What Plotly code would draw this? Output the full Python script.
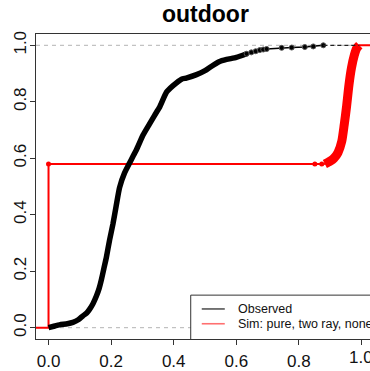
import plotly.graph_objects as go

# ---- data ----
title_text = "outdoor"
tick_vals = [0.0, 0.2, 0.4, 0.6, 0.8, 1.0]
tick_text = ["0.0", "0.2", "0.4", "0.6", "0.8", "1.0"]

# Observed ECDF: dense part (quantile knots)
obs_dense_x = [0.0, 0.02, 0.035, 0.06, 0.078, 0.095, 0.11, 0.122, 0.131, 0.142, 0.153, 0.162,
               0.169, 0.177, 0.185, 0.195, 0.206, 0.216, 0.227, 0.243, 0.259, 0.27, 0.281,
               0.302, 0.322, 0.339, 0.355, 0.377, 0.398, 0.425, 0.44, 0.473, 0.50, 0.52,
               0.545, 0.569, 0.60, 0.633]
obs_dense_F = [0.0, 0.006, 0.01, 0.014, 0.019, 0.028, 0.042, 0.052, 0.065, 0.085, 0.112, 0.14,
               0.17, 0.21, 0.25, 0.31, 0.368, 0.43, 0.496, 0.548, 0.583, 0.607, 0.63,
               0.682, 0.72, 0.752, 0.781, 0.834, 0.857, 0.880, 0.884, 0.896, 0.910, 0.925,
               0.942, 0.950, 0.957, 0.970]
# Observed ECDF: sparse upper tail (individual points)
obs_sparse_x = [0.633, 0.648, 0.662, 0.675, 0.686, 0.697, 0.745, 0.777, 0.819, 0.846, 0.878]
obs_sparse_F = [0.970, 0.975, 0.979, 0.983, 0.985, 0.987, 0.991, 0.992, 0.994, 0.996, 1.0]

# Simulated ECDF (pure, two ray, none)
sim_zero_F = 0.58
sim_pts_x = [0.851, 0.873]
sim_dense_x = [0.883, 0.90, 0.912, 0.925, 0.937, 0.945, 0.952, 0.960, 0.968, 0.977, 0.985, 0.993]
sim_dense_F = [0.58, 0.59, 0.60, 0.62, 0.66, 0.72, 0.78, 0.86, 0.92, 0.965, 0.99, 1.0]

legend_labels = ["Observed", "Sim: pure, two ray, none"]

# ---- figure ----
FONT = "Liberation Sans, Arial, Helvetica, sans-serif"
X0, X1 = -0.04, 1.0272
Y0, Y1 = -0.04, 1.04
PLOT_H = 310

fig = go.Figure()

# reference dashed lines at 0 and 1
for h in (0.0, 1.0):
    fig.add_shape(type="line", xref="paper", yref="y", x0=0, x1=1, y0=h, y1=h,
                  line=dict(color="#b3b3b3", width=1, dash="4px,4px"), layer="below")

# simulated (red)
fig.add_trace(go.Scatter(x=[X0, 0.0, 0.0], y=[0.0, 0.0, sim_zero_F], mode="lines",
                         line=dict(color="#ff0000", width=2), showlegend=False, hoverinfo="skip"))
fig.add_trace(go.Scatter(x=[0.0] + sim_pts_x + [sim_dense_x[0]],
                         y=[sim_zero_F] * (len(sim_pts_x) + 2), mode="lines",
                         line=dict(color="#ff0000", width=2), showlegend=False, hoverinfo="skip"))
fig.add_trace(go.Scatter(x=[0.0] + sim_pts_x, y=[sim_zero_F] * (len(sim_pts_x) + 1), mode="markers",
                         marker=dict(color="#ff0000", size=5), showlegend=False, hoverinfo="skip"))
fig.add_trace(go.Scatter(x=sim_dense_x + [X1 + 0.05], y=sim_dense_F + [1.0], mode="lines",
                         line=dict(color="#ff0000", width=2), showlegend=False, hoverinfo="skip"))
fig.add_trace(go.Scatter(x=sim_dense_x, y=sim_dense_F, mode="lines",
                         line=dict(color="#ff0000", width=9, shape="spline", smoothing=0.6),
                         showlegend=False, hoverinfo="skip"))

# observed (black)
fig.add_trace(go.Scatter(x=obs_dense_x, y=obs_dense_F, mode="lines",
                         line=dict(color="#000000", width=5.5, shape="spline", smoothing=0.5),
                         showlegend=False, hoverinfo="skip"))
fig.add_trace(go.Scatter(x=obs_sparse_x, y=obs_sparse_F, mode="lines+markers",
                         line=dict(color="#000000", width=1.5),
                         marker=dict(color="#000000", size=5, line=dict(color="#555555", width=1)),
                         showlegend=False, hoverinfo="skip"))
fig.add_trace(go.Scatter(x=[obs_sparse_x[-1], sim_dense_x[-1]], y=[1.0, 1.0], mode="lines",
                         line=dict(color="#222222", width=1.2, dash="4px,3px"),
                         showlegend=False, hoverinfo="skip"))

# manual legend (R style)
fig.add_shape(type="rect", xref="x", yref="y", x0=0.4544, x1=1.2, y0=-0.045, y1=0.1153,
              line=dict(color="#333333", width=1), fillcolor="white", layer="above")
leg_colors = ["#555555", "#ff7070"]
leg_y = [0.0664, 0.014]
for lab, col, ly in zip(legend_labels, leg_colors, leg_y):
    fig.add_shape(type="line", xref="x", yref="y", x0=0.4896, x1=0.5632, y0=ly, y1=ly,
                  line=dict(color=col, width=1.6), layer="above")
    fig.add_annotation(x=0.598, y=ly, xref="x", yref="y", text=lab, showarrow=False,
                       xanchor="left", yanchor="middle",
                       font=dict(family=FONT, size=12.5, color="#111111"))

# title
fig.add_annotation(x=(205 - 36) / 334, y=1 + 20 / PLOT_H, xref="paper", yref="paper",
                   text="<b>" + title_text + "</b>", showarrow=False,
                   xanchor="center", yanchor="middle",
                   font=dict(family=FONT, size=23, color="#000000"))

# last x tick label (partly past the right edge, as in the reference)
fig.add_annotation(x=tick_vals[-1], y=-19 / PLOT_H, xref="x", yref="paper",
                   text=tick_text[-1], showarrow=False, xanchor="center", yanchor="middle",
                   font=dict(family=FONT, size=17, color="#111111"))

axis_common = dict(showgrid=False, zeroline=False, showline=True, linecolor="#333333",
                   linewidth=1, ticks="outside", ticklen=5, tickwidth=1, tickcolor="#333333",
                   tickfont=dict(family=FONT, size=17, color="#111111"))

fig.update_layout(
    width=370, height=371,
    margin=dict(l=36, r=0, t=34, b=27, pad=0),
    paper_bgcolor="white", plot_bgcolor="white",
    showlegend=False,
    xaxis=dict(range=[X0, X1], mirror=True, ticklabelstandoff=2,
               tickvals=tick_vals, ticktext=tick_text[:-1] + [""], **axis_common),
    yaxis=dict(range=[Y0, Y1], mirror=False, tickangle=-90, ticklabelstandoff=-3,
               tickvals=tick_vals, ticktext=tick_text, **axis_common),
)

fig.write_html("out.html", config={"displayModeBar": False})
